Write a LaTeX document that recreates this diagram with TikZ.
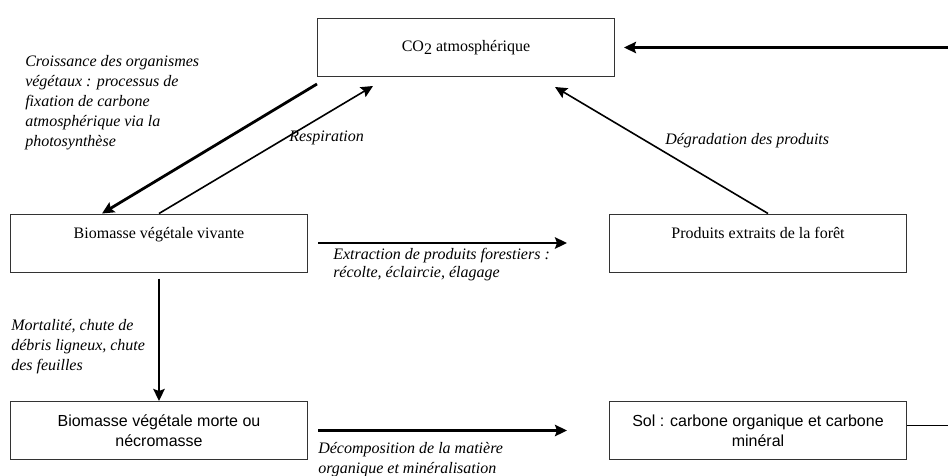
\documentclass[tikz,border=0pt]{standalone}
\usepackage{fontspec}
\setmainfont{Liberation Serif}
\setsansfont{Liberation Sans}
\usepackage{tikz}
\usetikzlibrary{arrows.meta,positioning}
\tikzset{
  poolbox/.style={
    draw=black!80, fill=white, line width=0.75pt,
    minimum width=222.75pt, minimum height=43.5pt,
    align=center, font=\fontsize{12}{15}\selectfont, inner sep=2pt
  },
  poolboxsf/.style={poolbox, font=\fontsize{12}{15}\sffamily},
  fluxarr/.style={-{Stealth[length=9pt,width=8.5pt,inset=1.5pt]}, line width=2.1pt},
  fluxthin/.style={fluxarr, line width=1.2pt},
  fluxlbl/.style={font=\fontsize{12}{15}\itshape, align=left, inner sep=0pt}
}

\begin{document}
\begin{tikzpicture}[x=0.75pt, y=-0.75pt]
  \useasboundingbox (0,0) rectangle (948,475);

  \node[poolbox] (co2)      at (466,47.5) {CO\raisebox{-0.45ex}{2} atmosphérique};
  \node[poolbox] (vivante)  at (159,243)  {Biomasse végétale vivante\\ \mbox{}};
  \node[poolbox] (produits) at (758,243)  {Produits extraits de la forêt\\ \mbox{}};
  \node[poolboxsf] (morte)  at (159,430.5) {Biomasse végétale morte ou\\nécromasse};
  \node[poolboxsf] (sol)    at (758,430.5) {Sol : carbone organique et carbone\\minéral};

  % return path from the soil back to the atmosphere
  \coordinate (retourbas)  at (948,425);
  \coordinate (retourhaut) at (948,47.5);
  \draw[line width=0.75pt] (sol.east |- retourbas) -- (retourbas);
  \draw[fluxarr, shorten >=6.75pt] (retourhaut) -- (co2.east);

  \draw[fluxarr] ([yshift=-5.25pt]co2.south west)
    -- ([xshift=69pt]vivante.north west);
  \draw[fluxthin] ([xshift=111.75pt]vivante.north west)
    -- ([xshift=42pt,yshift=-6.75pt]co2.south west);
  \draw[fluxthin] ([xshift=119.25pt]produits.north west)
    -- ([xshift=-45pt,yshift=-7.5pt]co2.south east);

  \draw[fluxarr, shorten <=4.5pt] (vivante) -- (morte);
  \draw[fluxarr, shorten <=7.5pt, shorten >=31.5pt] (vivante) -- (produits);
  \draw[fluxarr, shorten <=7.5pt, shorten >=31.5pt] (morte) -- (sol);

  \node[fluxlbl, anchor=north west] (lblcroiss) at (25,55)
    {Croissance des organismes\\végétaux : processus de\\fixation de carbone\\atmosphérique via la\\photosynthèse};
  \node[fluxlbl, anchor=west] (lblresp) at (289,138) {Respiration};
  \node[fluxlbl, anchor=west] (lbldegr) at (665,141) {Dégradation des produits};
  \node[fluxlbl, anchor=north west, font=\fontsize{12}{13.5}\itshape] (lblextr) at (333,247.5)
    {Extraction de produits forestiers :\\récolte, éclaircie, élagage};
  \node[fluxlbl, anchor=north west] (lblmort) at (11,319.5)
    {Mortalité, chute de\\débris ligneux, chute\\des feuilles};
  \node[fluxlbl, anchor=north west] (lbldecomp) at (318,442)
    {Décomposition de la matière\\organique et minéralisation};
\end{tikzpicture}
\end{document}
